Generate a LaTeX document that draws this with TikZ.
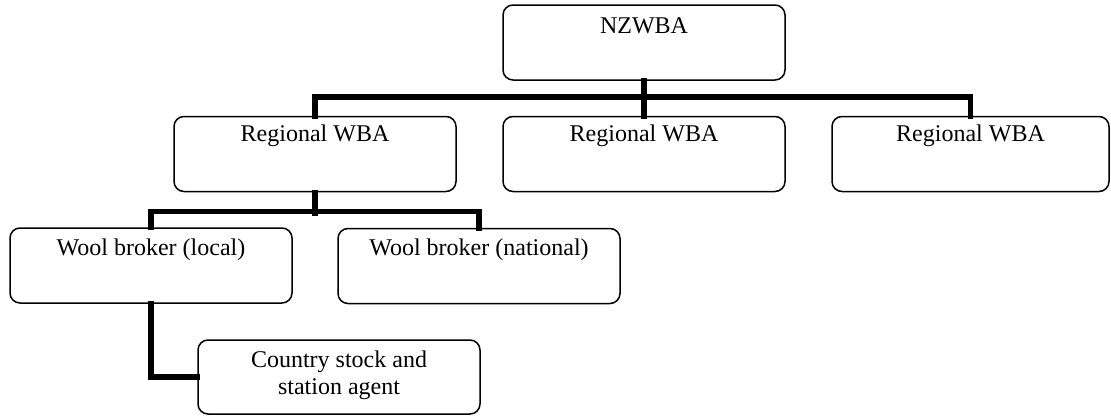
\documentclass[tikz,border=0pt]{standalone}
\usepackage{fontspec}
\setmainfont{Liberation Serif}
\begin{document}
\begin{tikzpicture}[x=1pt,y=-1pt,
  orgbox/.style={draw=black, line width=1.5pt, rounded corners=10pt, minimum width=282pt, minimum height=75pt, inner sep=0pt},
  lbl/.style={font=\fontsize{24pt}{27pt}\selectfont, inner sep=0pt, align=center},
  bus/.style={line width=5.5pt, line join=miter, line cap=rect}]
\useasboundingbox (0,0) rectangle (1111,416);
\node[orgbox] (nz) at (644,42.5) {};
\node[orgbox] (r1) at (315,154) {};
\node[orgbox] (r2) at (644,154) {};
\node[orgbox, minimum width=277pt] (r3) at (970.5,154) {};
\node[orgbox] (wl) at (151,265.5) {};
\node[orgbox] (wn) at (479,266) {};
\node[orgbox, minimum height=74pt] (cs) at (339,377) {};
\node[lbl] (tnz) at ([yshift=-22pt]nz.north) {NZWBA};
\node[lbl] (tr1) at ([yshift=-20pt]r1.north) {Regional WBA};
\node[lbl] (tr2) at ([yshift=-20pt]r2.north) {Regional WBA};
\node[lbl] (tr3) at ([yshift=-20pt]r3.north) {Regional WBA};
\node[lbl] (twl) at ([yshift=-22pt]wl.north) {Wool broker (local)};
\node[lbl] (twn) at ([yshift=-22pt]wn.north) {Wool broker (national)};
\node[lbl] (tcs) at ([yshift=1.5pt]cs.center) {Country stock and\\station agent};
\draw[bus] (nz.south) -- (r2.north);
\draw[bus] (r1.north) -- ++(0,-19) -| (r3.north);
\draw[bus] (r1.south) -- ++(0,21);
\draw[bus] (wl.north) -- ++(0,-16) -| (wn.north);
\draw[bus] (wl.south) |- (cs.west);
\end{tikzpicture}
\end{document}
